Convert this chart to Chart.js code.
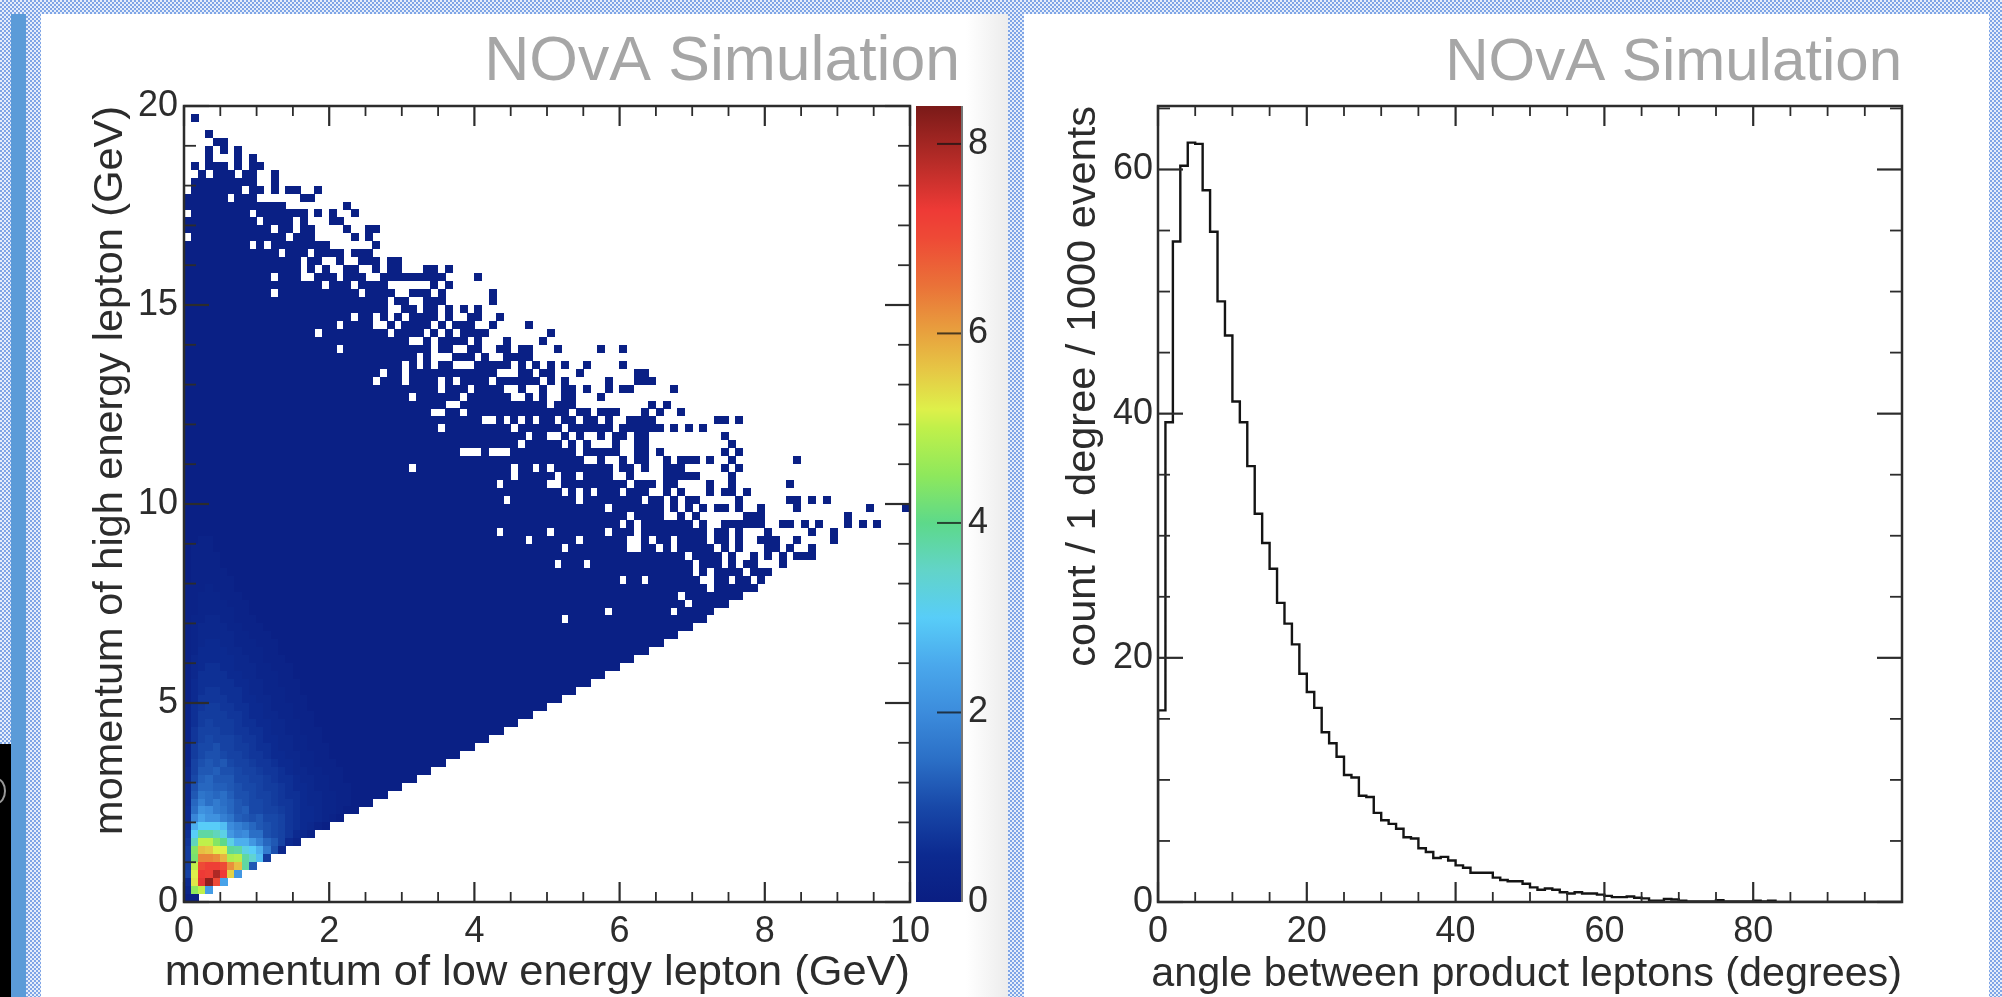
<!DOCTYPE html>
<html>
<head>
<meta charset="utf-8">
<title>NOvA Simulation</title>
<script src="https://cdn.jsdelivr.net/npm/chart.js@4"></script>
<style>
    html, body { margin: 0; padding: 0; width: 2002px; height: 997px; overflow: hidden; }
    body { position: relative; background: repeating-conic-gradient(#7fa5e6 0 25%, #e6eefb 0 50%) 0 0 / 4px 4px; }
    .strip { position: absolute; left: 11px; top: 14px; width: 15px; height: 983px; background: #5b9bd8; }
    .corner { position: absolute; left: 0; top: 744px; width: 11px; height: 253px; background: #000; overflow: hidden; }
    .corner i { position: absolute; left: -12px; top: 34px; width: 14px; height: 22px; border: 2px solid #999; border-radius: 50%; }
    .panel { position: absolute; top: 14px; height: 983px; }
    #panel-left { left: 41px; width: 967px; background: linear-gradient(90deg, #fff 0, #fff 925px, #ececec 100%); }
    #panel-right { left: 1024px; width: 965px; background: #fff; }
    canvas { position: absolute; filter: blur(0.75px); }
    #heatmap { left: 40px; top: 14px; }
    #colorbar { left: 916px; top: 86px; }
    #angle { left: 1024px; top: 14px; }
</style>
</head>
<body>
<div class="strip"></div>
<div class="corner"><i></i></div>
<div class="panel" id="panel-left"></div>
<div class="panel" id="panel-right"></div>
<canvas id="heatmap" width="920" height="983" style="width:920px;height:983px"></canvas>
<canvas id="colorbar" width="84" height="840" style="width:84px;height:840px"></canvas>
<canvas id="angle" width="940" height="983" style="width:940px;height:983px"></canvas>
<script>
// count per bin (1 degree bins)
const angleCounts = [
    15.7, 39.3, 54.1, 60.3, 62.2, 62.1, 58.3, 54.9, 49.2, 46.4,
    41.0, 39.3, 35.7, 31.8, 29.4, 27.3, 24.5, 22.8, 21.1, 18.7,
    17.2, 15.9, 13.9, 13.0, 11.9, 10.4, 10.2, 8.7, 8.6, 7.3,
    6.7, 6.4, 6.0, 5.3, 5.2, 4.4, 4.1, 3.6, 3.7, 3.4,
    3.0, 2.8, 2.4, 2.4, 2.4, 2.0, 1.8, 1.7, 1.7, 1.5,
    1.2, 1.0, 1.1, 1.0, 0.8, 0.7, 0.8, 0.7, 0.7, 0.6,
    0.5, 0.4, 0.4, 0.45, 0.35, 0.3, 0.1, 0.1, 0.25, 0.2,
    0.1, 0.05, 0.05, 0.05, 0.05, 0.15, 0.05, 0.05, 0.05, 0.05,
    0.1, 0.05, 0.1, 0, 0, 0, 0, 0, 0, 0,
    0, 0, 0, 0, 0, 0, 0, 0, 0, 0
];
const angleXTicks = [0, 20, 40, 60, 80];
const angleXMinor = [5, 10, 15, 25, 30, 35, 45, 50, 55, 65, 70, 75, 85, 90, 95];
const angleYTicks = [0, 20, 40, 60];
const angleYMinor = [5, 10, 15, 25, 30, 35, 45, 50, 55, 65];

const lowTicks = [0, 2, 4, 6, 8, 10];
const lowMinor = [0.5, 1, 1.5, 2.5, 3, 3.5, 4.5, 5, 5.5, 6.5, 7, 7.5, 8.5, 9, 9.5];
const highTicks = [0, 5, 10, 15, 20];
const highMinor = [1, 2, 3, 4, 6, 7, 8, 9, 11, 12, 13, 14, 16, 17, 18, 19];
const colorTicks = [0, 2, 4, 6, 8];
const colorRange = [0, 8.4];

// which low momentum bins (0.1 GeV wide) have entries, one string per high momentum bin
// (0.2 GeV tall), top row of the plot first
const filledBins = [
    "", "1", "", "3", "4-5", "3 5 7", "3 7 9", "1 3-5 7 9-10", "2 4-6 8-9 12", "1-9 12",
    "1-7 9-10 12 14-15 18",
    "0-5 7-9 16-17",
    "0-13 22",
    "1-8 10-16 18 20 23",
    "0-9 11-14 16 20-21",
    "0-11 13-14 16-17 22 25-26",
    "1-13 15-17 23 25",
    "0-8 10 12-19 26",
    "0-12 14-16 18-21 23-25",
    "0-15 17-18 21 24-26 28-29",
    "0-15 17 19 22-23 26 28-29 33-34 36",
    "0-11 13-15 18-20 22-24 27-35 40",
    "0-18 20-22 24-27 34 36",
    "0-11 13-23 25-28 31-33 35 42",
    "0-27 29-30 33-35 42",
    "0-27 30-31 33-34 36 38 40",
    "0-22 24-25 27 29 31-34 36 39-40 43",
    "0-20 22-25 28 30-33 35 37-39 42 47",
    "0-17 19-27 29-32 34 36 38-41 50",
    "0-30 33 35-38 40 44 49",
    "0-20 22-33 35-36 39-40 43-44 46-47 51 57 60",
    "0-31 33 37-39 41 44-47",
    "0-29 31 33 35-36 40-44 46 48 50 52 55 60",
    "0-26 28-29 31-42 46-47 49-50 54 62-63",
    "0-25 27-29 31-34 36 38-41 43-48 50 52 58 62-64",
    "0-34 36-38 40-43 46 49 52-53 55 58 60-61 67",
    "0-30 32-37 39-44 47 49 52-53 57",
    "0-35 38-49 51-53 64 66",
    "0-33 36-37 39-52 54-55 57-59 63 65 68",
    "0-40 43 45 47 49-50 52-53 55-56 58 61-64 73-74 76",
    "0-34 36-44 46-51 53-58 60-65 67 69 71",
    "0-46 48-49 52 54 57 59-60 62-63 74",
    "0-45 47-51 53 55 59 62-63 75",
    "0-37 41 45-53 55-59 62-63 65 74 76",
    "0-54 57 60 62-63 66 68-70 72 75 84",
    "0-30 32-44 46-47 49 51-58 60-61 63 66-68 74 76",
    "0-44 46-50 52-53 55-58 61 66-70 75",
    "0-42 44-49 52-60 62-64 66-67 72 75 83",
    "0-51 53 55 57-59 61-63 66 68 72 74-75 77",
    "0-43 45-53 55-62 64-65 67 69-70 76 83-84 86 88",
    "0-57 59-65 67 69 71 73-74 76 79 84 94 99",
    "0-60 62-65 68 70 77-79 91",
    "0-59 61 63-69 71 74-79 82-83 85 87 91 93 95",
    "0-42 44-49 51-57 59-61 63-71 73-74 76 80 86 89",
    "0-46 48-53 55-60 63 65-66 68-71 73-74 76 79-81 84 89",
    "0-51 53-60 63-64 66 68-72 74 76 80-81 83 86",
    "0-68 70-73 75 78 80 82 84-86",
    "0-50 52-54 56-69 71-73 75 77-78 82",
    "0-69 71 73-76 78-80",
    "0-59 61-62 64-70 73-74 76-77 79",
    "0-71 73-78",
    "0-67 69-76",
    "0-68 70-74",
    "0-57 59-66 68-72",
    "0-51 53-71",
    "0-69", "0-67", "0-65", "0-63", "0-61", "0-59", "0-57", "0-55", "0-53", "0-51",
    "0-49", "0-47", "0-45", "0-43", "0-41", "0-39", "0-37", "0-35", "0-33", "0-31",
    "0-29", "0-27", "0-25", "0-23", "0-21", "0-19", "0-17", "0-15", "0-13", "0-11",
    "0-9", "0-7", "0-5", "0-3", "0-1"
];

// tenths of a count in the low momentum corner, bottom row of the plot first
const cornerTenths = [
    [1, 1],
    [3, 45, 50, 23],
    [5, 53, 74, 82, 70, 24],
    [9, 52, 73, 72, 79, 73, 55, 22],
    [8, 50, 70, 72, 72, 70, 62, 57, 38, 12],
    [8, 43, 63, 63, 62, 58, 48, 49, 38, 34, 28, 8],
    [8, 44, 57, 56, 52, 52, 39, 38, 32, 30, 26, 17, 11, 4],
    [7, 36, 50, 50, 44, 40, 32, 26, 26, 22, 18, 14, 12, 9, 5, 3],
    [6, 30, 38, 38, 36, 32, 22, 19, 20, 15, 15, 11, 10, 9, 7, 5, 4, 2],
    [5, 26, 30, 30, 30, 28, 20, 18, 16, 14, 12, 11, 10, 9, 7, 6, 5, 4, 2, 1],
    [5, 19, 24, 21, 21, 18, 16, 13, 12, 11, 12, 10, 10, 9, 7, 6, 5, 5, 4, 3, 2, 1],
    [5, 15, 21, 20, 17, 16, 14, 12, 13, 10, 10, 9, 9, 8, 7, 6, 5, 5, 4, 3, 3, 2, 1],
    [4, 14, 18, 15, 17, 15, 14, 12, 11, 10, 10, 9, 8, 7, 7, 6, 5, 4, 4, 3, 3, 2, 2, 1],
    [4, 12, 16, 15, 14, 15, 13, 11, 11, 10, 9, 9, 8, 7, 6, 6, 5, 4, 4, 3, 3, 2, 2, 1],
    [4, 11, 14, 14, 13, 13, 12, 11, 10, 10, 9, 8, 8, 7, 6, 5, 5, 4, 3, 3, 2, 2, 2, 1],
    [4, 10, 13, 14, 12, 12, 12, 10, 10, 9, 9, 8, 7, 6, 6, 5, 4, 4, 3, 3, 2, 2, 1, 1],
    [4, 9, 12, 12, 13, 11, 11, 10, 9, 9, 8, 7, 7, 6, 5, 4, 4, 3, 3, 2, 2, 2, 1, 1],
    [3, 9, 11, 12, 11, 12, 10, 9, 9, 8, 7, 7, 6, 5, 5, 4, 3, 3, 2, 2, 2, 1, 1, 1],
    [3, 8, 10, 11, 11, 10, 9, 9, 8, 7, 7, 6, 5, 5, 4, 4, 3, 3, 2, 2, 1, 1, 1, 1],
    [3, 8, 10, 10, 11, 9, 9, 8, 8, 7, 6, 6, 5, 4, 4, 3, 3, 2, 2, 2, 1, 1, 1, 1],
    [3, 7, 9, 10, 9, 9, 9, 8, 7, 7, 6, 5, 5, 4, 4, 3, 3, 2, 2, 1, 1, 1, 1, 1],
    [3, 7, 9, 9, 9, 8, 8, 7, 7, 6, 6, 5, 4, 4, 3, 3, 2, 2, 2, 1, 1, 1, 1, 1],
    [3, 6, 8, 9, 8, 8, 8, 7, 6, 6, 5, 5, 4, 4, 3, 3, 2, 2, 1, 1, 1, 1, 1, 1],
    [3, 6, 8, 8, 8, 8, 7, 7, 6, 5, 5, 4, 4, 3, 3, 2, 2, 2, 1, 1, 1, 1, 1, 1],
    [3, 6, 7, 8, 8, 7, 7, 6, 6, 5, 5, 4, 3, 3, 3, 2, 2, 1, 1, 1, 1, 1, 1, 1],
    [2, 5, 7, 7, 7, 7, 6, 6, 5, 5, 4, 4, 3, 3, 2, 2, 2, 1, 1, 1, 1, 1, 1, 1],
    [2, 5, 6, 7, 7, 6, 6, 6, 5, 4, 4, 3, 3, 3, 2, 2, 1, 1, 1, 1, 1, 1, 1, 1],
    [2, 5, 6, 6, 6, 6, 6, 5, 5, 4, 4, 3, 3, 2, 2, 2, 1, 1, 1, 1, 1, 1, 1, 1],
    [2, 4, 6, 6, 6, 6, 5, 5, 4, 4, 3, 3, 3, 2, 2, 1, 1, 1, 1, 1, 1, 1, 1, 1],
    [2, 4, 5, 6, 6, 5, 5, 4, 4, 4, 3, 3, 2, 2, 2, 1, 1, 1, 1, 1, 1, 1, 1, 1],
    [2, 4, 5, 5, 5, 5, 5, 4, 4, 3, 3, 2, 2, 2, 1, 1, 1, 1, 1, 1, 1, 1, 1, 1],
    [2, 3, 5, 5, 5, 5, 4, 4, 3, 3, 3, 2, 2, 1, 1, 1],
    [2, 3, 4, 5, 5, 4, 4, 3, 3, 3, 2, 2, 2, 1, 1, 1],
    [2, 3, 4, 4, 4, 4, 4, 3, 3, 2, 2, 2, 1, 1, 1],
    [2, 3, 4, 4, 4, 4, 3, 3, 2, 2, 2, 1, 1, 1],
    [2, 3, 3, 4, 4, 3, 3, 2, 2, 2, 1, 1, 1],
    [2, 2, 3, 3, 3, 3, 3, 2, 2, 1, 1, 1],
    [2, 2, 3, 3, 3, 3, 2, 2, 2, 1, 1],
    [2, 2, 3, 3, 3, 2, 2, 2, 1, 1],
    [2, 2, 2, 3, 2, 2, 2, 1, 1, 1],
    [1, 2, 2, 2, 2, 2, 2, 1, 1],
    [1, 2, 2, 2, 2, 2, 1, 1],
    [1, 2, 2, 2, 2, 1, 1, 1],
    [1, 2, 2, 2, 2, 1, 1],
    [1, 2, 2, 2, 1, 1],
    [1, 1, 2, 2, 1, 1]
];
const tailTenths = 1;

// colour scale of the left plot
const paletteValues = [0, 0.5, 1, 1.5, 2, 2.5, 3, 3.5, 4, 4.5, 5, 5.2, 5.6, 6, 6.5, 7, 7.3, 7.8, 8.4];
const paletteColors = ["#0a1e82", "#0c2a90", "#1848a8", "#2b6fc6", "#3c8cdc", "#4aa8ec", "#58cdf8",
    "#62d4c8", "#5dd98a", "#8ee85c", "#c0f04a", "#def04a", "#e6c845", "#e8a23e", "#ea7238",
    "#ee4a36", "#ee3a36", "#b82c28", "#7a1a18"];

const FONT = "'Liberation Sans', Arial, sans-serif";
const INK = "#2c2c2c";
const TITLE_GREY = "#a6a6a6";
const LOW_BIN = 0.1;
const HIGH_BIN = 0.2;

function hexToRgb(hex) {
    return [1, 3, 5].map(i => parseInt(hex.slice(i, i + 2), 16));
}

function colorFor(value) {
    let i = 0;
    while (i < paletteValues.length - 2 && value > paletteValues[i + 1]) i++;
    const t = Math.min(1, (value - paletteValues[i]) / (paletteValues[i + 1] - paletteValues[i]));
    const a = hexToRgb(paletteColors[i]);
    const b = hexToRgb(paletteColors[i + 1]);
    return `rgb(${a.map((c, k) => Math.round(c + (b[k] - c) * t)).join(",")})`;
}

// one small canvas per colour, chart.js draws it as the point image of a bin
const cellSprites = {};
function cellSprite(value) {
    const color = colorFor(value);
    if (!cellSprites[color]) {
        const c = document.createElement("canvas");
        c.width = 8;
        c.height = 8;
        const g = c.getContext("2d");
        g.fillStyle = color;
        g.fillRect(0, 0, 8, 8);
        cellSprites[color] = c;
    }
    return cellSprites[color];
}

function buildCells() {
    const cells = [];
    filledBins.forEach((row, r) => {
        const iy = filledBins.length - 1 - r;
        row.split(" ").filter(Boolean).forEach(token => {
            const [from, to] = token.split("-").map(Number);
            for (let ix = from; ix <= (to === undefined ? from : to); ix++) {
                const tenths = cornerTenths[iy] && cornerTenths[iy][ix] !== undefined ? cornerTenths[iy][ix] : tailTenths;
                cells.push({ x: (ix + 0.5) * LOW_BIN, y: (iy + 0.5) * HIGH_BIN, v: tenths / 10 });
            }
        });
    });
    return cells;
}

function buildSteps() {
    const points = [{ x: 0, y: 0 }];
    angleCounts.forEach((count, i) => points.push({ x: i + 1, y: count }));
    return points;
}

// ROOT style ticks: they point into the plot from all four sides
const insideTicks = {
    id: "insideTicks",
    afterDraw(chart, args, opts) {
        const { ctx, chartArea: area, scales } = chart;
        ctx.save();
        ctx.strokeStyle = INK;
        const xScale = scales.x;
        const yScale = scales.y;
        const line = (x1, y1, x2, y2) => {
            ctx.beginPath();
            ctx.moveTo(x1, y1);
            ctx.lineTo(x2, y2);
            ctx.stroke();
        };
        const xTicks = (list, len) => list.forEach(v => {
            const px = xScale.getPixelForValue(v);
            line(px, area.bottom, px, area.bottom - len);
            line(px, area.top, px, area.top + len);
        });
        const yTicks = (list, len) => list.forEach(v => {
            const py = yScale.getPixelForValue(v);
            line(area.left, py, area.left + len, py);
            line(area.right, py, area.right - len, py);
        });
        ctx.lineWidth = 1.8;
        xTicks(opts.xMinor, 10);
        yTicks(opts.yMinor, 12);
        ctx.lineWidth = 2.2;
        xTicks(opts.xMajor, 20);
        yTicks(opts.yMajor, 25);
        ctx.lineWidth = 2.5;
        ctx.strokeRect(area.left, area.top, area.right - area.left, area.bottom - area.top);
        // the native scale title gets squeezed to the axis width, this one runs past it
        ctx.fillStyle = INK;
        ctx.font = `${opts.captionSize}px ${FONT}`;
        ctx.textAlign = "right";
        ctx.textBaseline = "middle";
        ctx.fillText(opts.caption, area.right, chart.height - opts.captionSize * 0.6 + 2);
        ctx.restore();
    }
};

function tickList(list) {
    return scale => { scale.ticks = list.map(value => ({ value })); };
}

function axisTitle(text, size, paddingTop, paddingBottom) {
    return {
        display: true,
        text,
        align: "end",
        color: INK,
        font: { family: FONT, size },
        padding: { top: paddingTop, bottom: paddingBottom }
    };
}

function tickStyle(padding) {
    return { color: INK, font: { family: FONT, size: 36 }, padding, autoSkip: false, maxRotation: 0 };
}

function pinAxis(prop, size) {
    return scale => {
        scale[prop] = size;
        scale.paddingLeft = scale.paddingRight = scale.paddingTop = scale.paddingBottom = 0;
    };
}

function plotTitle(size, fullSize) {
    return {
        display: true,
        text: "NOvA Simulation",
        align: "end",
        fullSize,
        color: TITLE_GREY,
        font: { family: FONT, size, weight: "normal", lineHeight: 1.2 },
        padding: { top: 49 - size * 0.6, bottom: 43 - size * 0.6 }
    };
}

const noLines = { display: false, drawTicks: false };

new Chart(document.getElementById("heatmap"), {
    type: "scatter",
    plugins: [insideTicks],
    data: {
        datasets: [{
            label: "bins",
            data: buildCells(),
            pointRadius: 6,
            pointStyle: ctx => (ctx.raw ? cellSprite(ctx.raw.v) : "rect"),
            showLine: false
        }]
    },
    options: {
        responsive: false,
        animation: false,
        events: [],
        layout: { padding: 0 },
        plugins: {
            legend: { display: false },
            tooltip: { enabled: false },
            title: plotTitle(62.5, true),
            insideTicks: {
                xMajor: lowTicks, xMinor: lowMinor, yMajor: highTicks, yMinor: highMinor,
                caption: "momentum of low energy lepton (GeV)", captionSize: 43.4
            }
        },
        scales: {
            x: {
                type: "linear", min: 0, max: 10,
                grid: noLines, border: { display: false },
                ticks: tickStyle(8),
                afterBuildTicks: tickList(lowTicks),
                afterFit: pinAxis("height", 95)
            },
            y: {
                type: "linear", min: 0, max: 20,
                grid: noLines, border: { display: false },
                ticks: tickStyle(6),
                afterBuildTicks: tickList(highTicks),
                afterFit: pinAxis("width", 144),
                title: axisTitle("momentum of high energy lepton (GeV)", 41.5, 46, 0)
            },
            // only there to keep the plot clear of the colour bar
            spacer: {
                type: "linear", position: "right",
                grid: noLines, border: { display: false },
                ticks: { display: false },
                afterFit: pinAxis("width", 50)
            }
        }
    }
});

new Chart(document.getElementById("colorbar"), {
    type: "bar",
    plugins: [{
        id: "colorTicks",
        afterDraw(chart) {
            const { ctx, chartArea: area, scales } = chart;
            ctx.save();
            ctx.strokeStyle = "rgba(20,20,20,0.75)";
            ctx.lineWidth = 2;
            colorTicks.filter(v => v > 0).forEach(v => {
                const py = scales.y.getPixelForValue(v);
                ctx.beginPath();
                ctx.moveTo(area.right, py);
                ctx.lineTo(area.right - 25, py);
                ctx.stroke();
            });
            ctx.strokeStyle = "#777";
            ctx.beginPath();
            ctx.moveTo(area.right, area.top);
            ctx.lineTo(area.right, area.bottom);
            ctx.stroke();
            ctx.restore();
        }
    }],
    data: {
        labels: ["count"],
        datasets: [{
            data: [colorRange],
            barPercentage: 1,
            categoryPercentage: 1,
            borderWidth: 0,
            backgroundColor: ctx => {
                const { chartArea, scales } = ctx.chart;
                if (!chartArea) return paletteColors[0];
                const top = scales.y.getPixelForValue(colorRange[1]);
                const bottom = scales.y.getPixelForValue(colorRange[0]);
                const gradient = ctx.chart.ctx.createLinearGradient(0, bottom, 0, top);
                paletteValues.forEach((v, i) => gradient.addColorStop(v / colorRange[1], paletteColors[i]));
                return gradient;
            }
        }]
    },
    options: {
        responsive: false,
        animation: false,
        events: [],
        layout: { padding: { top: 20, bottom: 24 } },
        plugins: { legend: { display: false }, tooltip: { enabled: false } },
        scales: {
            x: { display: false },
            y: {
                position: "right",
                min: colorRange[0], max: colorRange[1],
                grid: noLines, border: { display: false },
                ticks: tickStyle(6),
                afterBuildTicks: tickList(colorTicks),
                afterFit: pinAxis("width", 38)
            }
        }
    }
});

new Chart(document.getElementById("angle"), {
    type: "line",
    plugins: [insideTicks],
    data: {
        datasets: [{
            label: "count",
            data: buildSteps(),
            stepped: "after",
            borderColor: "#141414",
            borderWidth: 2.4,
            pointRadius: 0,
            fill: false
        }]
    },
    options: {
        responsive: false,
        animation: false,
        events: [],
        layout: { padding: { right: 62 } },
        plugins: {
            legend: { display: false },
            tooltip: { enabled: false },
            title: plotTitle(60, false),
            insideTicks: {
                xMajor: angleXTicks, xMinor: angleXMinor, yMajor: angleYTicks, yMinor: angleYMinor,
                caption: "angle between product leptons (degrees)", captionSize: 41.3
            }
        },
        scales: {
            x: {
                type: "linear", min: 0, max: 100,
                grid: noLines, border: { display: false },
                ticks: tickStyle(8),
                afterBuildTicks: tickList(angleXTicks),
                afterFit: pinAxis("height", 95)
            },
            y: {
                type: "linear", min: 0, max: 65.2,
                grid: noLines, border: { display: false },
                ticks: tickStyle(5),
                afterBuildTicks: tickList(angleYTicks),
                afterFit: pinAxis("width", 134),
                title: axisTitle("count / 1 degree / 1000 events", 41.5, 35, 0)
            }
        }
    }
});
</script>
</body>
</html>
